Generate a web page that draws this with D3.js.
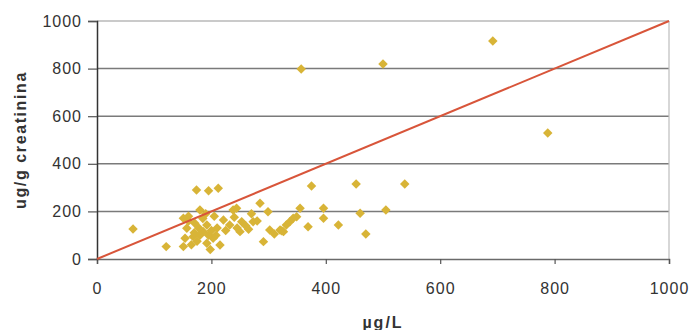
<!DOCTYPE html>
<html>
<head>
<meta charset="utf-8">
<script src="https://cdn.jsdelivr.net/npm/d3@7"></script>
<style>
  html, body { margin: 0; padding: 0; background: #fff; }
  svg { display: block; font-family: "Liberation Sans", Arial, sans-serif; }
</style>
</head>
<body>
<svg id="chart" width="696" height="330"></svg>
<script>
// Urine concentration (µg/L) vs creatinine-adjusted (ug/g creatinina)
const xValues = [63, 121, 151, 154, 157, 151, 168, 171, 180, 186, 192, 192, 203, 215, 221, 232, 244, 238,
  174, 195, 212, 253, 250, 273, 285, 299, 291, 302, 320, 326, 337, 349, 355, 369, 375, 396, 396, 422,
  453, 460, 470, 505, 538, 357, 500, 692, 788, 343, 331, 323,
  165, 175, 180, 185, 195, 200, 205, 210, 178, 160, 198, 170, 190, 208, 225, 260, 270, 280, 240, 245, 265, 310, 160];
const yValues = [126, 52, 52, 87, 129, 171, 94, 150, 206, 115, 66, 143, 87, 59, 164, 143, 213, 206,
  290, 287, 297, 157, 115, 157, 234, 199, 73, 122, 122, 115, 157, 178, 213, 136, 307, 213, 171, 143,
  315, 192, 105, 206, 315, 798, 819, 916, 529, 171, 143, 119,
  60, 75, 100, 170, 100, 120, 180, 130, 130, 160, 40, 110, 190, 100, 120, 140, 190, 160, 175, 130, 125, 105, 180];
const xTicks = [0, 200, 400, 600, 800, 1000];
const yTicks = [0, 200, 400, 600, 800, 1000];
const refLine = [[0, 0], [1000, 1000]];

const svg = d3.select("#chart");
const x = d3.scaleLinear().domain([0, 1000]).range([97, 669]);
const y = d3.scaleLinear().domain([0, 1000]).range([259, 21]);

// horizontal gridlines
svg.append("g").selectAll("line")
  .data(yTicks.filter(v => v > 0))
  .join("line")
  .attr("x1", x(0)).attr("x2", x(1000))
  .attr("y1", d => y(d)).attr("y2", d => y(d))
  .attr("stroke", d => d === 1000 ? "#b8b8b8" : "#7a7a7a")
  .attr("stroke-width", 1.5);

// right border of the plot area
svg.append("line")
  .attr("x1", x(1000)).attr("x2", x(1000))
  .attr("y1", y(1000)).attr("y2", y(0))
  .attr("stroke", "#bdbdbd").attr("stroke-width", 1.2);

// axes
const xAxis = svg.append("g")
  .attr("transform", `translate(0,${y(0)})`)
  .call(d3.axisBottom(x).tickValues(xTicks).tickSize(5).tickPadding(19).tickFormat(d3.format("d")));
const yAxis = svg.append("g")
  .attr("transform", `translate(${x(0)},0)`)
  .call(d3.axisLeft(y).tickValues(yTicks).tickSize(9).tickPadding(6).tickFormat(d3.format("d")));

xAxis.select(".domain").attr("stroke", "#6a6a6a").attr("stroke-width", 1.5);
yAxis.select(".domain").attr("stroke", "#333").attr("stroke-width", 1.5);
[xAxis, yAxis].forEach(g => {
  g.selectAll(".tick line").attr("stroke", "#555").attr("stroke-width", 1.2);
  g.selectAll(".tick text")
    .attr("fill", "#333")
    .style("font-size", "16px")
    .style("letter-spacing", "1px");
});

// data points (diamonds)
const pts = xValues.map((v, i) => ({ x: v, y: yValues[i] }));
const diamond = d3.symbol().type(d3.symbolSquare).size(45);
svg.append("g").selectAll("path")
  .data(pts)
  .join("path")
  .attr("d", diamond)
  .attr("transform", d => `translate(${x(d.x)},${y(d.y)}) rotate(45)`)
  .attr("fill", "#d8b437");

// 1:1 reference line
svg.append("path")
  .datum(refLine)
  .attr("d", d3.line().x(d => x(d[0])).y(d => y(d[1])))
  .attr("stroke", "#d8553a")
  .attr("stroke-width", 2)
  .attr("fill", "none");

// axis titles
svg.append("text")
  .attr("x", (x(0) + x(1000)) / 2).attr("y", 328)
  .attr("text-anchor", "middle")
  .attr("fill", "#333").style("font-size", "16px").style("font-weight", "bold")
  .style("letter-spacing", "2px")
  .text("µg/L");
svg.append("text")
  .attr("transform", `translate(26,${(y(0) + y(1000)) / 2}) rotate(-90)`)
  .attr("text-anchor", "middle")
  .attr("fill", "#333").style("font-size", "16px").style("font-weight", "bold")
  .style("letter-spacing", "1.6px")
  .text("ug/g creatinina");
</script>
</body>
</html>
